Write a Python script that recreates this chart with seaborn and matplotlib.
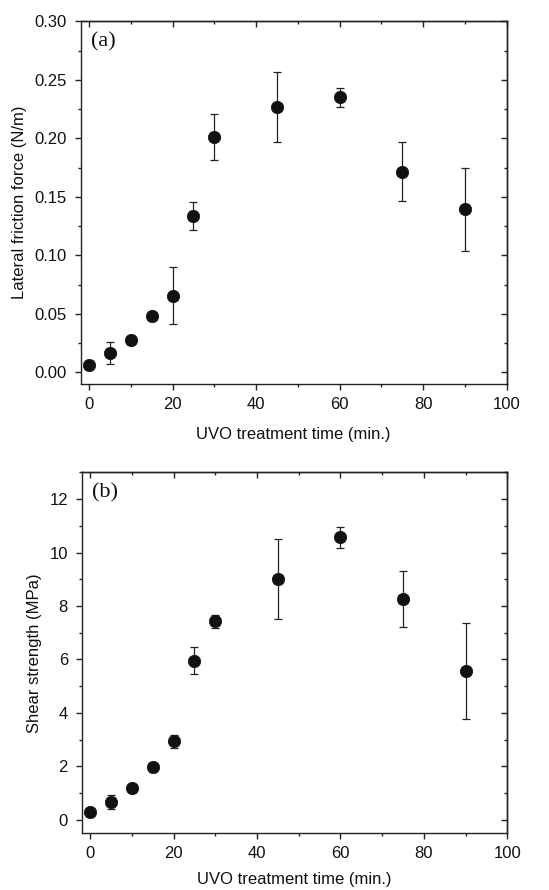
import matplotlib
matplotlib.use("Agg")
import matplotlib.pyplot as plt
import seaborn as sns
import pandas as pd
from matplotlib.ticker import MultipleLocator

sns.set_theme(style="ticks")
plt.rcParams['font.family'] = ['Liberation Sans', 'DejaVu Sans']

# UVO treatment time (min.)
time = [0, 5, 10, 15, 20, 25, 30, 45, 60, 75, 90]

# (a) lateral friction force (N/m)
friction = [0.0065, 0.0164, 0.0277, 0.048, 0.0655, 0.1340, 0.2010, 0.2270, 0.2350, 0.1715, 0.1395]
friction_err = [0.001, 0.0093, 0.003, 0.003, 0.0243, 0.012, 0.0195, 0.030, 0.008, 0.0253, 0.0355]

# (b) shear strength (MPa)
shear = [0.31, 0.68, 1.21, 1.98, 2.94, 5.96, 7.43, 9.0, 10.57, 8.26, 5.58]
shear_err = [0.05, 0.27, 0.1, 0.05, 0.25, 0.5, 0.25, 1.5, 0.4, 1.06, 1.8]

df = pd.DataFrame({"time": time, "friction": friction, "friction_err": friction_err,
                   "shear": shear, "shear_err": shear_err})

fig = plt.figure(figsize=(5.49, 8.90), dpi=100)
ax_a = fig.add_axes([0.147, 0.5685, 0.776, 0.4075])
ax_b = fig.add_axes([0.149, 0.0637, 0.775, 0.4056])

panels = [
    (ax_a, "friction", "friction_err", "Lateral friction force (N/m)", "(a)",
     (-0.01, 0.30), 0.05, 0.025, 11),
    (ax_b, "shear", "shear_err", "Shear strength (MPa)", "(b)",
     (-0.5, 13), 2, 1, 8),
]

for ax, col, err, ylabel, tag, ylim, major, minor, xpad in panels:
    ax.errorbar(df["time"], df[col], yerr=df[err], fmt="none", ecolor="#222222",
                elinewidth=0.9, capsize=3.2, capthick=0.9, zorder=2)
    sns.scatterplot(data=df, x="time", y=col, ax=ax, color="#111111", s=80,
                    edgecolor="#111111", linewidth=0.5, zorder=3)
    ax.set_xlim(-2, 100)
    ax.set_ylim(*ylim)
    ax.xaxis.set_major_locator(MultipleLocator(20))
    ax.xaxis.set_minor_locator(MultipleLocator(10))
    ax.yaxis.set_major_locator(MultipleLocator(major))
    ax.yaxis.set_minor_locator(MultipleLocator(minor))
    ax.tick_params(which="both", direction="out", top=False, right=False,
                   labelsize=12, width=1, colors="#222222", labelcolor="#111111")
    ax.tick_params(which="major", length=4)
    ax.tick_params(axis="x", which="major", pad=5)
    ax.tick_params(axis="y", which="major", pad=6)
    ax.tick_params(which="minor", length=2.5)
    # inward ticks on top and right like the original plot
    sec_x = ax.secondary_xaxis("top")
    sec_x.xaxis.set_major_locator(MultipleLocator(20))
    sec_x.xaxis.set_minor_locator(MultipleLocator(10))
    sec_x.tick_params(which="both", direction="in", labeltop=False, width=1, colors="#222222")
    sec_x.tick_params(which="major", length=4)
    sec_x.tick_params(which="minor", length=2.5)
    sec_y = ax.secondary_yaxis("right")
    sec_y.yaxis.set_major_locator(MultipleLocator(major))
    sec_y.yaxis.set_minor_locator(MultipleLocator(minor))
    sec_y.tick_params(which="both", direction="in", labelright=False, width=1, colors="#222222")
    sec_y.tick_params(which="major", length=4)
    sec_y.tick_params(which="minor", length=2.5)
    for sp in ax.spines.values():
        sp.set_linewidth(1.0)
        sp.set_color("#222222")
    sec_x.spines["top"].set_linewidth(1.0)
    sec_y.spines["right"].set_linewidth(1.0)
    ax.set_xlabel("UVO treatment time (min.)", fontsize=12, labelpad=xpad, color="#111111")
    ax.set_ylabel(ylabel, fontsize=12, labelpad=5, color="#111111")
    ax.text(0.025, 0.97, tag, transform=ax.transAxes, ha="left", va="top",
            fontsize=16, family=["Liberation Serif", "DejaVu Serif"], color="#111111")

ax_a.yaxis.set_major_formatter(plt.FormatStrFormatter("%.2f"))

fig.savefig("out.png", dpi=100)
